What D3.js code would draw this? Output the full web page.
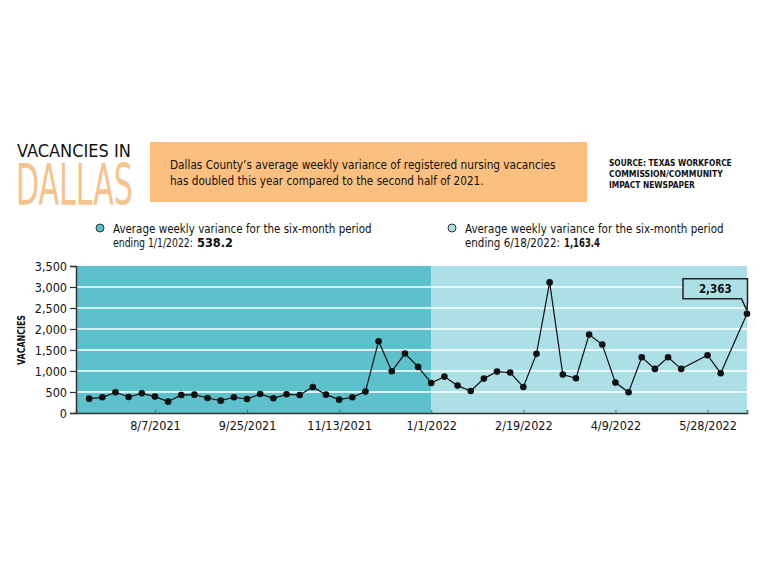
<!DOCTYPE html>
<html>
<head>
<meta charset="utf-8">
<script src="https://cdn.jsdelivr.net/npm/d3@7"></script>
<style>
  body { margin: 0; background: #fff; }
  svg text { font-family: "DejaVu Sans Condensed", "DejaVu Sans", sans-serif; font-stretch: condensed; }
</style>
</head>
<body>
<div id="chart"></div>
<script>
// weekly observations, Dallas County RN vacancy variance
const weeks = [
  "2021-07-03","2021-07-10","2021-07-17","2021-07-24","2021-07-31","2021-08-07","2021-08-14",
  "2021-08-21","2021-08-28","2021-09-04","2021-09-11","2021-09-18","2021-09-25","2021-10-02",
  "2021-10-09","2021-10-16","2021-10-23","2021-10-30","2021-11-06","2021-11-13","2021-11-20",
  "2021-11-27","2021-12-04","2021-12-11","2021-12-18","2021-12-25","2022-01-01","2022-01-08",
  "2022-01-15","2022-01-22","2022-01-29","2022-02-05","2022-02-12","2022-02-19","2022-02-26",
  "2022-03-05","2022-03-12","2022-03-19","2022-03-26","2022-04-02","2022-04-09","2022-04-16",
  "2022-04-23","2022-04-30","2022-05-07","2022-05-14","2022-05-28","2022-06-04","2022-06-18"
];
const vacancies = [
  342, 374, 493, 382, 469, 390, 270,
  430, 437, 358, 294, 374, 334, 453,
  350, 445, 430, 620, 437, 318, 374,
  509, 1710, 994, 1416, 1098, 716, 867,
  652, 525, 819, 986, 963, 620, 1408,
  3110, 915, 827, 1869, 1631, 724, 493,
  1328, 1050, 1328, 1050, 1376, 947, 2363
];
const tickDates = ["2021-08-07","2021-09-25","2021-11-13","2022-01-01","2022-02-19","2022-04-09","2022-05-28"];
const yTicks = [0, 500, 1000, 1500, 2000, 2500, 3000, 3500];
const periodSplit = "2022-01-01";
const legendItems = [
  {label: "Average weekly variance for the six-month period", end: "ending 1/1/2022:", avg: "538.2",
   x: 100, wEnd: 80, wAvg: 36},
  {label: "Average weekly variance for the six-month period", end: "ending 6/18/2022:", avg: "1,163.4",
   x: 452, wEnd: 95, wAvg: 36}
];
const sourceLines = ["SOURCE: TEXAS WORKFORCE", "COMMISSION/COMMUNITY", "IMPACT NEWSPAPER"];
const sourceWidths = [123, 114, 86];
const introLines = [
  "Dallas County’s average weekly variance of registered nursing vacancies",
  "has doubled this year compared to the second half of 2021."
];
const introWidths = [386, 314];

const parse = d3.timeParse("%Y-%m-%d");
const fmtTick = d => (d.getMonth() + 1) + "/" + d.getDate() + "/" + d.getFullYear();
const data = weeks.map((w, i) => ({date: parse(w), value: vacancies[i]}));

const W = 767, H = 575;
const darkTeal = "#5cc1ca", lightTeal = "#acdfe6", orange = "#fbbf7f", dallasOrange = "#f5c38b";

// squeeze a text horizontally (about its own x) so it spans the wanted width
function fitWidth(sel, widthFn) {
  sel.each(function(d, i) {
    const t = d3.select(this);
    const w = this.getComputedTextLength();
    const target = typeof widthFn === "function" ? widthFn(d, i) : widthFn;
    const k = target / w;
    const x0 = +t.attr("x"), y0 = +t.attr("y");
    t.attr("transform", `translate(${x0},${y0}) scale(${k},1) translate(${-x0},${-y0})`);
  });
}

const svg = d3.select("#chart").append("svg")
  .attr("width", W).attr("height", H);

// header
svg.append("text").attr("x", 17).attr("y", 157)
  .attr("font-size", 18).attr("fill", "#111")
  .text("VACANCIES IN")
  .call(fitWidth, 114);
svg.append("text").attr("x", 16).attr("y", 205)
  .attr("font-size", 57).attr("fill", dallasOrange)
  .text("DALLAS")
  .call(fitWidth, 117);

svg.append("rect").attr("x", 150).attr("y", 142).attr("width", 437).attr("height", 60)
  .attr("fill", orange);
svg.selectAll(".intro").data(introLines).enter().append("text")
  .attr("class", "intro")
  .attr("x", 170).attr("y", (d, i) => 169.5 + i * 16)
  .attr("font-size", 12.5).attr("fill", "#111")
  .text(d => d)
  .call(fitWidth, (d, i) => introWidths[i]);

svg.selectAll(".src").data(sourceLines).enter().append("text")
  .attr("class", "src")
  .attr("x", 609).attr("y", (d, i) => 166 + i * 10.8)
  .attr("font-size", 9).attr("font-weight", "bold").attr("fill", "#111")
  .text(d => d)
  .call(fitWidth, (d, i) => sourceWidths[i]);

// legend
const legend = svg.selectAll(".legend").data(legendItems).enter().append("g")
  .attr("class", "legend")
  .attr("transform", d => `translate(${d.x},228)`);
legend.append("circle").attr("r", 4)
  .attr("fill", (d, i) => i === 0 ? darkTeal : lightTeal)
  .attr("stroke", "#333").attr("stroke-width", 1);
legend.append("text").attr("x", 13).attr("y", 4.5).attr("font-size", 12.5).attr("fill", "#111")
  .text(d => d.label)
  .call(fitWidth, 259);
legend.append("text").attr("x", 13).attr("y", 19.5).attr("font-size", 12.5).attr("fill", "#111")
  .text(d => d.end)
  .call(fitWidth, d => d.wEnd);
legend.append("text").attr("x", d => 13 + d.wEnd + 4).attr("y", 19.5)
  .attr("font-size", 12.5).attr("font-weight", "bold").attr("fill", "#111")
  .text(d => d.avg)
  .call(fitWidth, d => d.wAvg);

// plot
const x = d3.scaleTime()
  .domain([parse("2021-06-26"), parse("2022-06-18")])
  .range([76, 747]);
const y = d3.scaleLinear().domain([0, 3500]).range([413, 266]);

svg.append("rect")
  .attr("x", x.range()[0]).attr("y", y(3500))
  .attr("width", x(parse(periodSplit)) - x.range()[0]).attr("height", y(0) - y(3500))
  .attr("fill", darkTeal);
svg.append("rect")
  .attr("x", x(parse(periodSplit))).attr("y", y(3500))
  .attr("width", x.range()[1] - x(parse(periodSplit))).attr("height", y(0) - y(3500))
  .attr("fill", lightTeal);

svg.append("g").selectAll("line").data(yTicks.filter(v => v > 0 && v < 3500)).enter().append("line")
  .attr("x1", x.range()[0]).attr("x2", x.range()[1])
  .attr("y1", d => y(d)).attr("y2", d => y(d))
  .attr("stroke", "#fff").attr("stroke-width", 1.3);

// y axis
const yAxis = svg.append("g").attr("transform", `translate(${x.range()[0]},0)`)
  .call(d3.axisLeft(y).tickValues(yTicks).tickFormat(d3.format(",")).tickSize(6).tickPadding(3));
yAxis.select(".domain").attr("stroke", "#333").attr("stroke-width", 1.5);
yAxis.selectAll(".tick line").attr("stroke", "#333").attr("stroke-width", 1.2);
yAxis.selectAll("text").attr("font-family", "'Noto Sans', sans-serif").attr("font-size", 12.5).attr("fill", "#111");

// x axis
const xAxis = svg.append("g").attr("transform", `translate(0,${y(0)})`)
  .call(d3.axisBottom(x).tickValues(tickDates.map(parse).concat([x.domain()[1]]))
    .tickFormat(d => tickDates.includes(d3.timeFormat("%Y-%m-%d")(d)) ? fmtTick(d) : "")
    .tickSize(-3).tickPadding(8));
xAxis.select(".domain").attr("stroke", "#333").attr("stroke-width", 1.5);
xAxis.selectAll(".tick line").attr("stroke", "#666").attr("stroke-width", 1);
xAxis.selectAll("text").attr("font-family", "'Noto Sans', sans-serif").attr("font-size", 12.5).attr("fill", "#111");

const yTitle = svg.append("text")
  .attr("text-anchor", "middle").attr("font-size", 11).attr("font-weight", "bold").attr("fill", "#111")
  .text("VACANCIES");
yTitle.attr("transform", `translate(25,340) rotate(-90) scale(${50 / yTitle.node().getComputedTextLength()},1)`);

// series
const line = d3.line().x(d => x(d.date)).y(d => y(d.value));
svg.append("path").datum(data).attr("d", line)
  .attr("fill", "none").attr("stroke", "#111").attr("stroke-width", 1.2);
svg.append("g").selectAll("circle").data(data).enter().append("circle")
  .attr("cx", d => x(d.date)).attr("cy", d => y(d.value)).attr("r", 3.3)
  .attr("fill", "#111");

// callout on last value
const last = data[data.length - 1];
const px = x(last.date), py = y(last.value);
const bx0 = px - 64, bx1 = px + 0.5, by0 = py - 35, by1 = py - 15;
svg.append("path")
  .attr("d", `M${bx0},${by0} H${bx1} V${by1 + 4} L${px},${py - 3} L${bx1 - 6},${by1} H${bx0} Z`)
  .attr("fill", lightTeal).attr("stroke", "#222").attr("stroke-width", 1.5);
svg.append("text").attr("x", (bx0 + bx1) / 2).attr("y", by1 - 5.5)
  .attr("text-anchor", "middle").attr("font-family", "'Noto Sans', sans-serif")
  .attr("font-size", 11.5).attr("font-weight", "bold").attr("fill", "#111")
  .text(d3.format(",")(last.value));
</script>
</body>
</html>
